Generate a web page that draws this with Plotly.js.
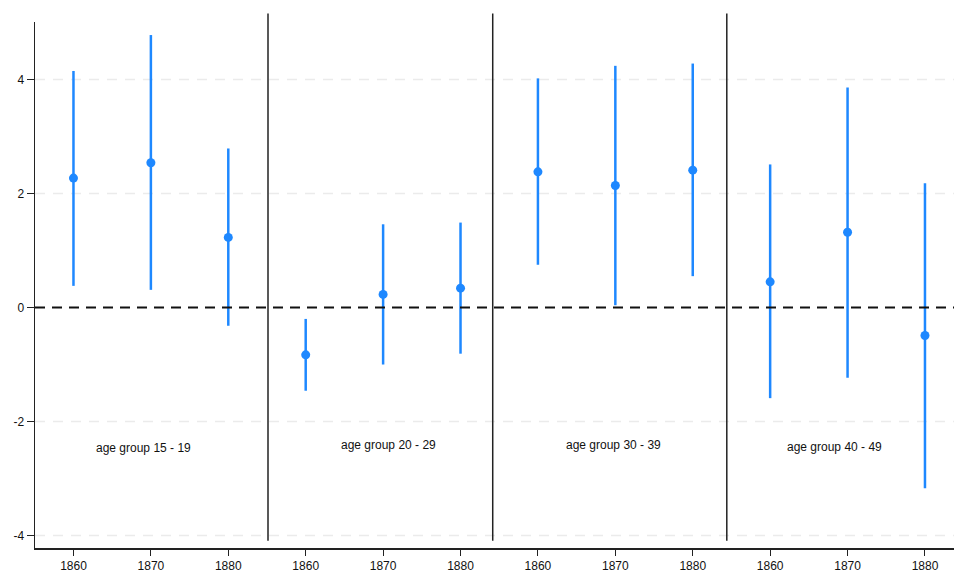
<!DOCTYPE html>
<html>
<head>
<meta charset="utf-8">
<script src="https://cdn.plot.ly/plotly-3.0.1.min.js"></script>
<style>html,body{margin:0;padding:0;background:#fff;}#chart{width:954px;height:571px;}</style>
</head>
<body>
<div id="chart"></div>
<script>
// Data
const yearLabels = ['1860','1870','1880','1860','1870','1880','1860','1870','1880','1860','1870','1880'];
const estimates = [2.27, 2.54, 1.23, -0.83, 0.23, 0.34, 2.38, 2.14, 2.41, 0.45, 1.32, -0.49];
const upperCI   = [4.15, 4.78, 2.79, -0.20, 1.46, 1.49, 4.02, 4.24, 4.28, 2.51, 3.86, 2.18];
const lowerCI   = [0.38, 0.31, -0.32, -1.46, -1.00, -0.81, 0.75, 0.04, 0.55, -1.59, -1.23, -3.17];
const yTickVals = [-4, -2, 0, 2, 4];
const yTickText = ['-4', '-2', '0', '2', '4'];
const gridVals = [-4, -2, 2, 4];
const groupLabels = ['age group 15 - 19', 'age group 20 - 29', 'age group 30 - 39', 'age group 40 - 49'];
const groupLabelX = [0.91, 4.07, 6.97, 9.83];
const groupLabelY = [-2.46, -2.42, -2.42, -2.44];
const separatorsX = [2.513, 5.416, 8.44];

const xIdx = yearLabels.map((_, i) => i);
const errPlus = estimates.map((v, i) => upperCI[i] - v);
const errMinus = estimates.map((v, i) => v - lowerCI[i]);

const blue = '#1e88ff';
const trace = {
  type: 'scatter', mode: 'markers',
  x: xIdx, y: estimates,
  marker: {color: blue, size: 9},
  error_y: {type: 'data', symmetric: false, array: errPlus, arrayminus: errMinus,
            color: blue, thickness: 2.5, width: 0},
  showlegend: false, hoverinfo: 'x+y'
};

const shapes = [];
gridVals.forEach(g => shapes.push({
  type: 'line', xref: 'paper', yref: 'y', x0: 0, x1: 1, y0: g, y1: g,
  line: {color: '#ebebeb', width: 1.5, dash: '10px,8px'}, layer: 'below'
}));
shapes.push({
  type: 'line', xref: 'paper', yref: 'y', x0: 0, x1: 1, y0: 0, y1: 0,
  line: {color: '#111', width: 2, dash: '10px,7px'}, layer: 'above'
});
separatorsX.forEach(sx => shapes.push({
  type: 'line', xref: 'x', yref: 'paper', x0: sx, x1: sx, y0: 0.014, y1: 1.016,
  line: {color: '#222', width: 1.5}
}));

const annotations = groupLabels.map((t, i) => ({
  x: groupLabelX[i], y: groupLabelY[i], xref: 'x', yref: 'y',
  text: t, showarrow: false, font: {size: 12, color: '#111'}
}));

const layout = {
  width: 954, height: 571,
  margin: {l: 35, r: 0, t: 22, b: 23},
  paper_bgcolor: '#fff', plot_bgcolor: '#fff',
  font: {family: '"Liberation Sans", Arial, Helvetica, sans-serif', size: 12, color: '#111'},
  xaxis: {
    range: [-0.497, 11.375], tickvals: xIdx, ticktext: yearLabels,
    showgrid: false, zeroline: false, showline: true, linecolor: '#222', linewidth: 1.5,
    ticks: 'outside', ticklen: 6, tickcolor: '#222', tickwidth: 1,
    tickfont: {size: 12, color: '#111'}
  },
  yaxis: {
    range: [-4.219, 5.009], tickvals: yTickVals, ticktext: yTickText,
    showgrid: false, zeroline: false, showline: true, linecolor: '#222', linewidth: 1.5,
    ticks: 'outside', ticklen: 7, tickcolor: '#222', tickwidth: 1,
    tickfont: {size: 12, color: '#111'}
  },
  shapes: shapes,
  annotations: annotations
};

Plotly.newPlot('chart', [trace], layout, {displayModeBar: false, staticPlot: true});
</script>
</body>
</html>
